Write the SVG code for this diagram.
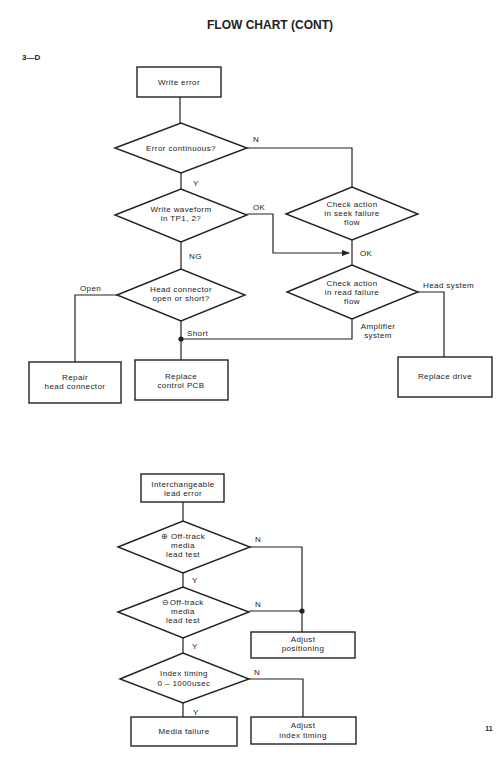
<svg xmlns="http://www.w3.org/2000/svg" width="500" height="759" viewBox="0 0 500 759">
<style>
.n rect,.n polygon{fill:#fff;stroke:#222;stroke-width:1.4}
text{font-family:"Liberation Sans",Arial,sans-serif;font-size:8px;letter-spacing:0.4px;fill:#222;text-anchor:middle}
.l{text-anchor:start}
#conn path{fill:none;stroke:#222;stroke-width:1.2}
.dot{fill:#222}
</style>
<defs><marker id="ah" markerWidth="8" markerHeight="6" refX="7" refY="3" orient="auto" markerUnits="userSpaceOnUse"><path d="M0,0 L8,3 L0,6 Z" fill="#222"/></marker></defs>
<rect width="500" height="759" fill="#fff"/>
<text x="270" y="29" style="font-size:12px;font-weight:bold;letter-spacing:0">FLOW CHART (CONT)</text>
<text x="22" y="60" class="l" style="font-size:8px;font-weight:bold;letter-spacing:0">3—D</text>
<g id="conn">
<path d="M180,97 V123"/>
<path d="M181,173 V189"/>
<path d="M247,148 H352 V187"/>
<path d="M247,214 H273 V253 H349" marker-end="url(#ah)"/>
<path d="M352,240 V265"/>
<path d="M181,242 V269"/>
<path d="M117,295 H75 V362"/>
<path d="M181,321 V360"/>
<path d="M352,319 V339 H181"/>
<path d="M418,292 H444 V357"/>
<path d="M183,502 V521"/>
<path d="M183,573 V587"/>
<path d="M250,547 H302 V632"/>
<path d="M249,611 H302"/>
<path d="M183,638 V653"/>
<path d="M249,679 H303 V717"/>
<path d="M183,703 V717"/>
<circle class="dot" cx="181" cy="339" r="2.6"/>
<circle class="dot" cx="302" cy="611" r="2.6"/>
<text x="253" y="142" class="l">N</text>
<text x="193" y="186" class="l">Y</text>
<text x="253" y="210" class="l">OK</text>
<text x="360" y="256" class="l">OK</text>
<text x="189" y="259" class="l">NG</text>
<text x="80" y="291" class="l">Open</text>
<text x="187" y="336" class="l">Short</text>
<text x="423" y="288" class="l">Head system</text>
<text x="378" y="329">Amplifier</text>
<text x="378" y="338">system</text>
<text x="255" y="542" class="l">N</text>
<text x="192" y="583" class="l">Y</text>
<text x="255" y="607" class="l">N</text>
<text x="192" y="649" class="l">Y</text>
<text x="254" y="675" class="l">N</text>
<text x="193" y="715" class="l">Y</text>
</g>
<g id="n1" class="n"><rect x="137" y="67" width="84" height="30"/><text x="179" y="85">Write error</text></g>
<g id="n2" class="n"><polygon points="115,148 181,123 247,148 181,173"/><text x="181" y="151">Error continuous?</text></g>
<g id="n3" class="n"><polygon points="115,215 181,189 247,215 181,242"/><text x="181" y="212">Write waveform</text><text x="181" y="221">in TP1, 2?</text></g>
<g id="n4" class="n"><polygon points="286,214 352,187 418,214 352,240"/><text x="352" y="207">Check action</text><text x="352" y="216">in seek failure</text><text x="352" y="225">flow</text></g>
<g id="n5" class="n"><polygon points="117,295 181,269 245,295 181,321"/><text x="181" y="292">Head connector</text><text x="181" y="301">open or short?</text></g>
<g id="n6" class="n"><polygon points="287,292 352,265 418,292 352,319"/><text x="352" y="286">Check action</text><text x="352" y="295">in read failure</text><text x="352" y="304">flow</text></g>
<g id="n7" class="n"><rect x="29" y="362" width="92" height="41"/><text x="75" y="380">Repair</text><text x="75" y="389">head connector</text></g>
<g id="n8" class="n"><rect x="135" y="360" width="93" height="40"/><text x="181" y="379">Replace</text><text x="181" y="388">control PCB</text></g>
<g id="n9" class="n"><rect x="398" y="357" width="94" height="40"/><text x="445" y="379">Replace drive</text></g>
<g id="n10" class="n"><rect x="141" y="474" width="83" height="28"/><text x="183" y="487">Interchangeable</text><text x="183" y="496">lead error</text></g>
<g id="n11" class="n"><polygon points="118,547 183,521 250,547 183,573"/><text x="183" y="539">⊕ Off-track</text><text x="183" y="548">media</text><text x="183" y="557">lead test</text></g>
<g id="n12" class="n"><polygon points="118,612 183,587 249,612 183,638"/><text x="183" y="605">⊖Off-track</text><text x="183" y="614">media</text><text x="183" y="623">lead test</text></g>
<g id="n13" class="n"><rect x="251" y="632" width="104" height="26"/><text x="303" y="642">Adjust</text><text x="303" y="651">positioning</text></g>
<g id="n14" class="n"><polygon points="120,679 183,653 249,679 183,703"/><text x="184" y="676">Index timing</text><text x="184" y="686">0 – 1000usec</text></g>
<g id="n15" class="n"><rect x="131" y="717" width="106" height="29"/><text x="184" y="734">Media failure</text></g>
<g id="n16" class="n"><rect x="251" y="717" width="105" height="27"/><text x="303" y="728">Adjust</text><text x="303" y="738">index timing</text></g>
<text x="489" y="731" style="font-size:7px;font-weight:bold;letter-spacing:0">11</text>
</svg>
